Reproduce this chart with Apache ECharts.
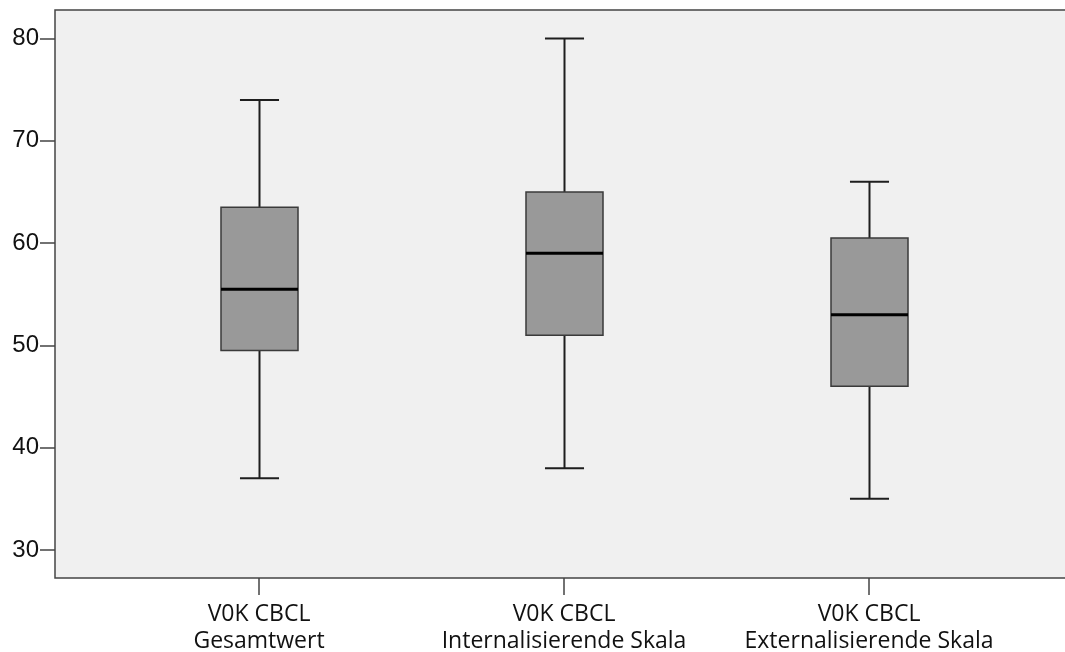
<!DOCTYPE html>
<html>
<head>
<meta charset="utf-8">
<script src="https://cdn.jsdelivr.net/npm/echarts@6/dist/echarts.min.js"></script>
<style>
  html, body { margin: 0; padding: 0; background: #ffffff; }
  #chart { width: 1065px; height: 652px; }
</style>
</head>
<body>
<div id="chart"></div>
<script>
// CBCL scale scores (T values) at V0K: five-number summaries per scale
const categories = [
  'V0K CBCL\nGesamtwert',
  'V0K CBCL\nInternalisierende Skala',
  'V0K CBCL\nExternalisierende Skala'
];
const whiskerLow  = [37, 38, 35];
const quartile1   = [49.5, 51, 46];
const medians     = [55.5, 59, 53];
const quartile3   = [63.5, 65, 60.5];
const whiskerHigh = [74, 80, 66];
const yTicks = [30, 40, 50, 60, 70, 80];

const boxData = categories.map((c, i) =>
  [i, whiskerLow[i], quartile1[i], medians[i], quartile3[i], whiskerHigh[i]]);

const BOX_WIDTH = 0.2525;   // in category units
const CAP_WIDTH = 0.128;

function renderBox(params, api) {
  const x = api.value(0);
  const lo = api.coord([x, api.value(1)]);
  const q1 = api.coord([x, api.value(2)]);
  const md = api.coord([x, api.value(3)]);
  const q3 = api.coord([x, api.value(4)]);
  const hi = api.coord([x, api.value(5)]);
  const bw = api.size([BOX_WIDTH, 0])[0];
  const cw = api.size([CAP_WIDTH, 0])[0];
  const cx = Math.round(lo[0]) + 0.5;
  const whisker = { stroke: '#1e1e1e', lineWidth: 2 };
  return {
    type: 'group',
    children: [
      { type: 'line', shape: { x1: cx, y1: hi[1], x2: cx, y2: q3[1] }, style: whisker },
      { type: 'line', shape: { x1: cx, y1: q1[1], x2: cx, y2: lo[1] }, style: whisker },
      { type: 'line', shape: { x1: cx - cw / 2, y1: hi[1], x2: cx + cw / 2, y2: hi[1] }, style: whisker },
      { type: 'line', shape: { x1: cx - cw / 2, y1: lo[1], x2: cx + cw / 2, y2: lo[1] }, style: whisker },
      {
        type: 'rect',
        shape: { x: cx - bw / 2, y: q3[1], width: bw, height: q1[1] - q3[1] },
        style: { fill: '#999999', stroke: '#3a3a3a', lineWidth: 1.5 }
      },
      {
        type: 'line',
        shape: { x1: cx - bw / 2, y1: md[1], x2: cx + bw / 2, y2: md[1] },
        style: { stroke: '#000000', lineWidth: 3 }
      }
    ]
  };
}

const chart = echarts.init(document.getElementById('chart'), null, { renderer: 'canvas' });
chart.setOption({
  animation: false,
  backgroundColor: '#ffffff',
  grid: {
    left: 55, top: 10, right: -6, bottom: 74,
    outerBoundsMode: 'none',
    containLabel: false,
    show: true,
    backgroundColor: '#f0f0f0',
    borderColor: '#444444',
    borderWidth: 1.5
  },
  xAxis: {
    type: 'value',
    min: -0.6689,
    max: 2.6622,
    splitLine: { show: false },
    axisLine: { show: false, onZero: false },
    axisTick: {
      show: true, length: 17, inside: false,
      customValues: [0, 1, 2],
      lineStyle: { color: '#444444', width: 1.5 }
    },
    axisLabel: {
      customValues: [0, 1, 2],
      formatter: v => categories[Math.round(v)],
      fontFamily: 'Open Sans',
      fontSize: 23,
      lineHeight: 27,
      color: '#111111',
      margin: 23
    }
  },
  yAxis: {
    type: 'value',
    min: 27.26,
    max: 82.79,
    splitLine: { show: false },
    axisLine: { show: false, onZero: false },
    axisTick: {
      show: true, length: 15, inside: false,
      customValues: yTicks,
      lineStyle: { color: '#444444', width: 1.5 }
    },
    axisLabel: {
      customValues: yTicks,
      fontFamily: 'Liberation Sans',
      fontSize: 24,
      color: '#111111',
      margin: 16
    }
  },
  series: [{
    type: 'custom',
    renderItem: renderBox,
    encode: { x: 0, y: [1, 2, 3, 4, 5] },
    data: boxData
  }]
});
</script>
</body>
</html>
